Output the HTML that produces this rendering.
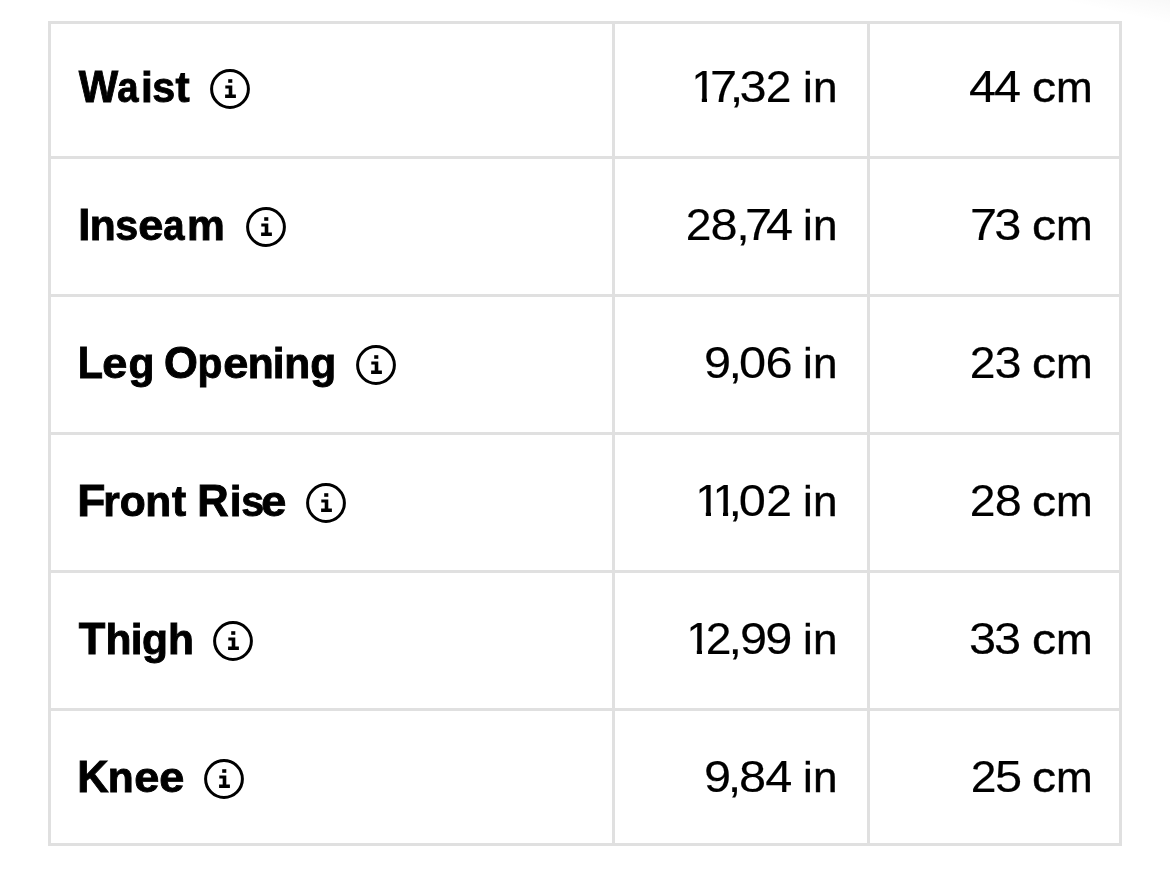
<!DOCTYPE html>
<html lang="en">
<head>
<meta charset="utf-8">
<title>Measurements</title>
<style>
  html, body { margin: 0; padding: 0; background: #ffffff; }
  body { width: 1170px; height: 872px; position: relative; overflow: hidden;
         font-family: "Liberation Sans", Arial, Helvetica, sans-serif; color: #000; }
  .hl, .vl { position: absolute; background: #e0e0e0; }
  .hl { left: 48px; width: 1074px; height: 3px; }
  .vl { top: 21px; height: 825px; width: 3px; }
  .r, .c1, .c2, .c3 { position: static; }
  .shade { position: absolute; right: 0; top: 0; width: 108px; height: 24px;
           background: linear-gradient(to top right, rgba(0,0,0,0) 48%, rgba(0,0,0,0.026) 100%); }
  .t { position: absolute; height: 60px; line-height: 60px; white-space: nowrap;
       transform-origin: 0 75.5%; font-kerning: none; }
  .lab  { font-weight: bold; font-size: 42.5px; transform: scale(1.0, 1.0); -webkit-text-stroke: 0.9px #000; }
  .num  { font-size: 43.5px;  transform: scale(1.12, 1.0); -webkit-text-stroke: 0.15px #000; }
  .unit { font-size: 43.2px; transform: scale(1.02, 1.0); -webkit-text-stroke: 0.4px #000; }
  .one, .gs { display: inline-block; }
  .cap { font-size: 43.5px; }
  .tbl { position: absolute; left: 0; top: 0; width: 1170px; height: 872px; will-change: transform; }
  .ico { position: absolute; width: 40px; height: 40px; overflow: visible; }
</style>
</head>
<body>
  <!-- grid lines -->
  <div class="hl" style="top:21px"></div>
  <div class="hl" style="top:156px"></div>
  <div class="hl" style="top:294px"></div>
  <div class="hl" style="top:432px"></div>
  <div class="hl" style="top:570px"></div>
  <div class="hl" style="top:708px"></div>
  <div class="hl" style="top:843px"></div>
  <div class="vl" style="left:48px"></div>
  <div class="vl" style="left:612px"></div>
  <div class="vl" style="left:867px"></div>
  <div class="vl" style="left:1119px"></div>
  <!-- faint shading present in the top-right corner of the capture -->
  <div class="shade"></div>

  <svg width="0" height="0" style="position:absolute">
    <defs>
      <symbol id="info" viewBox="0 0 40 40" overflow="visible">
        <circle cx="20" cy="20" r="18.4" fill="none" stroke="#000" stroke-width="3"/>
        <rect x="18.2" y="10.2" width="4.1" height="3.6" fill="#000"/>
        <path d="M15.3 16.4 H22.3 V25.6 H25.9 V29 H15.1 V25.6 H18.7 V19.6 H15.3 Z" fill="#000"/>
      </symbol>
    </defs>
  </svg>

<div class="tbl">
  <div class="r">
    <div class="c1"><span class="t lab" style="left:78.22px;top:56.90px"><span class="cap gs" style="letter-spacing:-2.95px;transform:scaleX(0.96);transform-origin:20.53px 50%">W</span><span class="gs" style="letter-spacing:0.96px;transform:scaleX(0.9);transform-origin:12.58px 50%">a</span><span style="letter-spacing:-1.07px">i</span><span class="gs" style="letter-spacing:0.23px;transform:scaleX(0.97);transform-origin:11.69px 50%">s</span>t</span><svg class="ico" style="left:209.90px;top:69.00px"><use href="#info"/></svg></div>
    <div class="c2"><span class="t num" style="left:690.44px;top:56.90px"><span class="one" style="letter-spacing:-6.26px;clip-path:polygon(4.98px -20px, 15.16px -20px, 15.16px 90px, 10.56px 90px, 10.56px 40.08px, 4.98px 40.08px)">1</span><span style="letter-spacing:-6.64px">7</span><span style="letter-spacing:-3.32px">,</span><span style="letter-spacing:-1.06px">3</span><span class="gs" style="transform:scaleX(0.95);transform-origin:12.10px 50%">2</span></span> <span class="t unit" style="left:802.97px;top:56.90px"><span style="letter-spacing:0.28px">i</span>n</span></div>
    <div class="c3"><span class="t num" style="left:969.21px;top:56.90px"><span style="letter-spacing:-1.83px">4</span>4</span> <span class="t unit" style="left:1032.68px;top:56.90px"><span class="gs" style="letter-spacing:0.91px;transform:scaleX(1.09);transform-origin:11.15px 50%">c</span>m</span></div>
  </div>
  <div class="r">
    <div class="c1"><span class="t lab" style="left:78.16px;top:194.90px"><span class="cap" style="letter-spacing:-0.56px">I</span><span style="letter-spacing:-1.14px">n</span><span class="gs" style="letter-spacing:0.54px;transform:scaleX(0.97);transform-origin:11.69px 50%">s</span><span class="gs" style="transform:scaleX(1.06);transform-origin:11.92px 50%">e</span><span class="gs" style="letter-spacing:1.06px;transform:scaleX(0.9);transform-origin:12.58px 50%">a</span>m</span><svg class="ico" style="left:246.10px;top:207.00px"><use href="#info"/></svg></div>
    <div class="c2"><span class="t num" style="left:684.95px;top:194.90px"><span class="gs" style="letter-spacing:-1.47px;transform:scaleX(0.95);transform-origin:12.10px 50%">2</span><span style="letter-spacing:-1.26px">8</span><span style="letter-spacing:-4.10px">,</span><span style="letter-spacing:-5.64px">7</span>4</span> <span class="t unit" style="left:802.97px;top:194.90px"><span style="letter-spacing:0.28px">i</span>n</span></div>
    <div class="c3"><span class="t num" style="left:969.93px;top:194.90px"><span style="letter-spacing:-2.53px">7</span>3</span> <span class="t unit" style="left:1032.68px;top:194.90px"><span class="gs" style="letter-spacing:0.91px;transform:scaleX(1.09);transform-origin:11.15px 50%">c</span>m</span></div>
  </div>
  <div class="r">
    <div class="c1"><span class="t lab" style="left:77.03px;top:332.90px"><span class="cap gs" style="letter-spacing:-0.57px;transform:scaleX(0.95);transform-origin:14.07px 50%">L</span><span class="gs" style="letter-spacing:1.91px;transform:scaleX(1.06);transform-origin:11.92px 50%">e</span><span style="letter-spacing:-2.48px">g</span> <span class="cap" style="letter-spacing:-0.70px">O</span><span class="gs" style="letter-spacing:0.83px;transform:scaleX(0.96);transform-origin:13.51px 50%">p</span><span class="gs" style="letter-spacing:0.32px;transform:scaleX(1.06);transform-origin:11.92px 50%">e</span><span style="letter-spacing:-0.93px">n</span><span style="letter-spacing:-0.29px">i</span>ng</span><svg class="ico" style="left:355.90px;top:345.00px"><use href="#info"/></svg></div>
    <div class="c2"><span class="t num" style="left:703.51px;top:332.90px"><span style="letter-spacing:-2.26px">9</span><span style="letter-spacing:-2.87px">,</span><span style="letter-spacing:-0.55px">0</span>6</span> <span class="t unit" style="left:802.97px;top:332.90px"><span style="letter-spacing:0.28px">i</span>n</span></div>
    <div class="c3"><span class="t num" style="left:968.75px;top:332.90px"><span class="gs" style="letter-spacing:-1.48px;transform:scaleX(0.95);transform-origin:12.10px 50%">2</span>3</span> <span class="t unit" style="left:1032.68px;top:332.90px"><span class="gs" style="letter-spacing:0.91px;transform:scaleX(1.09);transform-origin:11.15px 50%">c</span>m</span></div>
  </div>
  <div class="r">
    <div class="c1"><span class="t lab" style="left:78.01px;top:470.90px"><span class="cap gs" style="letter-spacing:-1.43px;transform:scaleX(1.06);transform-origin:13.94px 50%">F</span><span style="letter-spacing:0.08px">r</span><span style="letter-spacing:-0.54px">o</span><span style="letter-spacing:0.73px">n</span><span style="letter-spacing:-0.70px">t</span> <span class="cap" style="letter-spacing:1.12px">R</span><span style="letter-spacing:-0.87px">i</span><span class="gs" style="letter-spacing:-2.01px;transform:scaleX(0.97);transform-origin:11.69px 50%">s</span><span class="gs" style="transform:scaleX(1.06);transform-origin:11.92px 50%">e</span></span><svg class="ico" style="left:306.00px;top:483.00px"><use href="#info"/></svg></div>
    <div class="c2"><span class="t num" style="left:693.64px;top:470.90px"><span class="one" style="letter-spacing:-8.84px;clip-path:polygon(4.98px -20px, 15.16px -20px, 15.16px 90px, 10.56px 90px, 10.56px 40.08px, 4.98px 40.08px)">1</span><span class="one" style="letter-spacing:-8.67px;clip-path:polygon(4.98px -20px, 15.16px -20px, 15.16px 90px, 10.56px 90px, 10.56px 40.08px, 4.98px 40.08px)">1</span><span style="letter-spacing:-3.01px">,</span><span style="letter-spacing:0.23px">0</span><span class="gs" style="transform:scaleX(0.95);transform-origin:12.10px 50%">2</span></span> <span class="t unit" style="left:802.97px;top:470.90px"><span style="letter-spacing:0.28px">i</span>n</span></div>
    <div class="c3"><span class="t num" style="left:968.75px;top:470.90px"><span class="gs" style="letter-spacing:-1.25px;transform:scaleX(0.95);transform-origin:12.10px 50%">2</span>8</span> <span class="t unit" style="left:1032.68px;top:470.90px"><span class="gs" style="letter-spacing:0.91px;transform:scaleX(1.09);transform-origin:11.15px 50%">c</span>m</span></div>
  </div>
  <div class="r">
    <div class="c1"><span class="t lab" style="left:78.70px;top:608.90px"><span class="cap" style="letter-spacing:0.23px">T</span><span style="letter-spacing:-0.75px">h</span><span style="letter-spacing:-0.51px">i</span>gh</span><svg class="ico" style="left:213.00px;top:621.00px"><use href="#info"/></svg></div>
    <div class="c2"><span class="t num" style="left:684.64px;top:608.90px"><span class="one" style="letter-spacing:-6.06px;clip-path:polygon(4.98px -20px, 15.16px -20px, 15.16px 90px, 10.56px 90px, 10.56px 40.08px, 4.98px 40.08px)">1</span><span class="gs" style="letter-spacing:-3.41px;transform:scaleX(0.95);transform-origin:12.10px 50%">2</span><span style="letter-spacing:-2.01px">,</span><span style="letter-spacing:-1.51px">9</span>9</span> <span class="t unit" style="left:802.97px;top:608.90px"><span style="letter-spacing:0.28px">i</span>n</span></div>
    <div class="c3"><span class="t num" style="left:969.14px;top:608.90px"><span style="letter-spacing:-1.83px">3</span>3</span> <span class="t unit" style="left:1032.68px;top:608.90px"><span class="gs" style="letter-spacing:0.91px;transform:scaleX(1.09);transform-origin:11.15px 50%">c</span>m</span></div>
  </div>
  <div class="r">
    <div class="c1"><span class="t lab" style="left:77.19px;top:746.90px"><span class="cap" style="letter-spacing:-0.77px">K</span><span style="letter-spacing:0.98px">n</span><span class="gs" style="letter-spacing:1.56px;transform:scaleX(1.06);transform-origin:11.92px 50%">e</span><span class="gs" style="transform:scaleX(1.06);transform-origin:11.92px 50%">e</span></span><svg class="ico" style="left:204.00px;top:759.00px"><use href="#info"/></svg></div>
    <div class="c2"><span class="t num" style="left:704.41px;top:746.90px"><span style="letter-spacing:-2.93px">9</span><span style="letter-spacing:-2.16px">,</span><span style="letter-spacing:-0.71px">8</span>4</span> <span class="t unit" style="left:802.97px;top:746.90px"><span style="letter-spacing:0.28px">i</span>n</span></div>
    <div class="c3"><span class="t num" style="left:969.95px;top:746.90px"><span class="gs" style="letter-spacing:-1.87px;transform:scaleX(0.95);transform-origin:12.10px 50%">2</span>5</span> <span class="t unit" style="left:1032.68px;top:746.90px"><span class="gs" style="letter-spacing:0.91px;transform:scaleX(1.09);transform-origin:11.15px 50%">c</span>m</span></div>
  </div>
</div>
</body>
</html>
